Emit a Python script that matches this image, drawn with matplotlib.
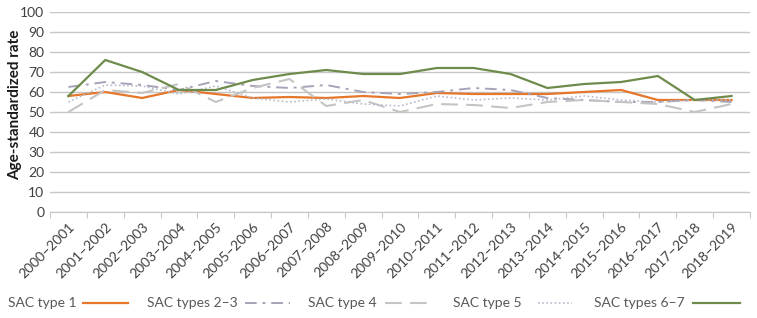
import matplotlib
matplotlib.use("Agg")
import matplotlib.pyplot as plt
from matplotlib.lines import Line2D

periods = ["2000–2001", "2001–2002", "2002–2003", "2003–2004", "2004–2005",
           "2005–2006", "2006–2007", "2007–2008", "2008–2009", "2009–2010",
           "2010–2011", "2011–2012", "2012–2013", "2013–2014", "2014–2015",
           "2015–2016", "2016–2017", "2017–2018", "2018–2019"]

sac1 = [58, 60, 57, 61, 59, 57, 57.5, 57, 58, 57, 59.5, 59, 59, 59, 60, 61, 56, 56, 56]
sac23 = [62.5, 65, 63.5, 61, 65.5, 63, 62, 63.5, 60, 59, 60, 62, 61, 57, 56, 55, 55, 56, 55]
sac4 = [50, 61, 59.5, 64, 55, 62, 66.5, 53, 56, 50, 54, 53.5, 52, 55, 56, 55, 54, 50, 54]
sac5 = [55, 63.5, 63, 59, 63, 57, 55, 56.5, 54, 53, 58, 56, 57, 56, 58, 56, 55, 56, 56]
sac67 = [58, 76, 70, 61, 61, 66, 69, 71, 69, 69, 72, 72, 69, 62, 64, 65, 68, 56, 58]

series = [
    ("SAC type 1", sac1, dict(color="#E5762A", lw=1.6, ls="-")),
    ("SAC types 2–3", sac23, dict(color="#A7A3B8", lw=1.4, ls=(0, (6, 3, 1.5, 3)))),
    ("SAC type 4", sac4, dict(color="#C4C4C4", lw=1.5, ls=(0, (8, 4)))),
    ("SAC type 5", sac5, dict(color="#B5BCCB", lw=1.2, ls=(0, (1, 1.5)))),
    ("SAC types 6–7", sac67, dict(color="#6E8B4C", lw=1.6, ls="-")),
]

plt.rcParams["font.family"] = ["Lato", "DejaVu Sans"]

fig = plt.figure(figsize=(7.57, 3.18), dpi=100)
ax = fig.add_axes([50/757, 1-212/318, 700/757, 200/318])

x = list(range(len(periods)))
for name, vals, st in series:
    ax.plot(x, vals, **st, zorder=3)

ax.set_xlim(-0.5, len(periods) - 0.5)
ax.set_ylim(0, 100)
ax.set_yticks(range(0, 101, 10))
ax.yaxis.grid(True, color="#C6C6C6", lw=1)
ax.set_axisbelow(True)
for s in ["top", "right", "left"]:
    ax.spines[s].set_visible(False)
ax.spines["bottom"].set_color("#C6C6C6")
ax.tick_params(axis="y", length=0, labelsize=10, colors="#404040", pad=4)

# category boundary ticks
ax.set_xticks([i - 0.5 for i in range(len(periods) + 1)], minor=False)
ax.set_xticklabels([""] * (len(periods) + 1))
ax.tick_params(axis="x", which="major", length=4, color="#C6C6C6", direction="out")
ax.set_xticks(x, minor=True)
ax.set_xticklabels(periods, minor=True, rotation=45, ha="right",
                   rotation_mode="anchor", fontsize=10, color="#404040")
ax.tick_params(axis="x", which="minor", length=0, pad=6)

fig.text(15/757, 1 - 105/318, "Age-standardized rate", fontsize=11,
         fontweight="bold", color="#1a1a1a", rotation=90, ha="center", va="center")

# legend drawn manually
ly = 1 - 303/318
entries = [(8, 83, 128), (147, 245, 290), (308, 385, 430), (453, 538, 572), (594, 693, 740)]
for (name, vals, st), (tx, l0, l1) in zip(series, entries):
    fig.text(tx/757, ly, name, fontsize=10, color="#595959", va="center", ha="left")
    fig.add_artist(Line2D([l0/757, l1/757], [ly, ly], transform=fig.transFigure,
                          color=st["color"], lw=st["lw"], ls=st["ls"]))

fig.savefig("out.png", dpi=100)
